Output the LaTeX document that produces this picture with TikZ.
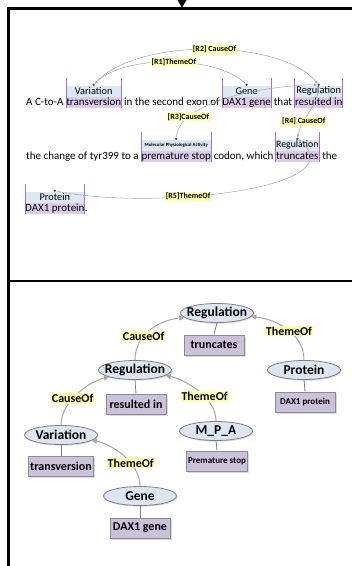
\documentclass[tikz,border=0pt]{standalone}
\usepackage{fontspec}
\setmainfont{Carlito}
\usetikzlibrary{shapes.geometric,arrows.meta,calc,shadows}
\definecolor{lblue}{HTML}{DDE8F5}
\definecolor{hlword}{HTML}{DCCBEA}
\definecolor{barpurp}{HTML}{A071D2}
\definecolor{dotpurp}{HTML}{4B3C9E}
\definecolor{arcgray}{HTML}{A6A6A6}
\definecolor{lblyel}{HTML}{FFFFA8}
\definecolor{eblue}{HTML}{DCE6F2}
\definecolor{eborder}{HTML}{7F7F7F}
\definecolor{boxfill}{HTML}{CCC1DA}
\definecolor{boxborder}{HTML}{8C8C8C}
\newcommand{\myannot}[3]{%
  \fill[strip] ($(#1.north west)+(0,-11)$) rectangle (#1.north east);
  \node[#3] (#1lab) at ($(#1.north)+(0,-5.5)$) {#2};
  \draw[bar] (#1.south west) -- ($(#1.north west)+(0,-19)$);
  \draw[bar] (#1.south east) -- ($(#1.north east)+(0,-19)$);
  \node[tdot] (#1dot) at ($(#1.north)+(0,-12)$) {};
}
\begin{document}
\begin{tikzpicture}[x=1pt,y=-1pt,
 wd/.style={inner sep=0pt, anchor=base west, font=\fontsize{11}{13}\selectfont},
 hw/.style={wd, fill=hlword, text height=8pt, text depth=3pt},
 strip/.style={fill=lblue},
 lbl/.style={inner sep=0pt, font=\fontsize{10.3}{12}\selectfont},
 slbl/.style={inner sep=0pt, font=\fontsize{9.8}{11}\selectfont},
 tinylbl/.style={inner sep=0pt, font=\fontsize{4.8}{5}\selectfont\bfseries},
 bar/.style={draw=barpurp, line width=0.9pt},
 tdot/.style={circle, fill=dotpurp, inner sep=0pt, minimum size=2.6pt},
 tarc/.style={draw=arcgray, line width=0.5pt},
 tarr/.style={tarc, -{Triangle[length=3pt,width=2.6pt]}},
 rlbl/.style={fill=lblyel, inner sep=0.8pt, font=\fontsize{8}{9}\selectfont\bfseries},
 frame/.style={line width=2.6pt, draw=black},
 ell/.style={ellipse, draw=eborder, line width=0.8pt, fill=eblue, minimum width=73pt, minimum height=19pt, inner sep=0pt, font=\fontsize{13.5}{15}\selectfont\bfseries, drop shadow={shadow xshift=1.2pt, shadow yshift=-1.2pt, opacity=0.3}},
 box/.style={rectangle, draw=boxborder, line width=1pt, fill=boxfill, minimum width=60pt, minimum height=20pt, inner sep=2pt, font=\fontsize{12}{14}\selectfont\bfseries, drop shadow={shadow xshift=1.5pt, shadow yshift=-1.5pt, opacity=0.3}},
 sbox/.style={box, font=\fontsize{9}{11}\selectfont\bfseries},
 link/.style={draw=eborder, line width=0.8pt},
 garr/.style={draw=arcgray, line width=1pt, -{Triangle[length=5pt,width=5pt]}},
 elbl/.style={fill=lblyel, inner sep=1pt, font=\fontsize{12}{13}\selectfont\bfseries}
]
\useasboundingbox (0,0) rectangle (352,566);
% frame
\fill (177.5,0) -- (186.5,0) -- (182,7.5) -- cycle;
\draw[frame] (8.5,566) -- (8.5,8.5) -- (352,8.5);
\draw[frame] (8.5,281) -- (352,281);

% ---- top panel: line 1
\node[wd] (t1) at (26,105) {A C-to-A};
\node[hw] (w1) at ($(t1.base east)+(2.5,0)$) {transversion};
\node[wd] (t2) at ($(w1.base east)+(2.5,0)$) {in the second exon of};
\node[hw] (w2) at ($(t2.base east)+(2.5,0)$) {DAX1 gene};
\node[wd] (t3) at ($(w2.base east)+(2.5,0)$) {that};
\node[hw] (w3) at ($(t3.base east)+(2.5,0)$) {resulted in};
% line 2
\node[wd] (t4) at (26,159) {the change of tyr399 to a};
\node[hw] (w4) at ($(t4.base east)+(2.5,0)$) {premature stop};
\node[wd] (t5) at ($(w4.base east)+(2.5,0)$) {codon, which};
\node[hw, inner xsep=1pt] (w5) at ($(t5.base east)+(1.5,0)$) {truncates};
\node[wd] (t6) at ($(w5.base east)+(2.5,0)$) {the};
% line 3
\node[hw] (w6) at (25,211) {DAX1 protein};
\node[wd] (t7) at (w6.base east) {.};

\myannot{w1}{Variation}{lbl}
\myannot{w2}{Gene}{lbl}
\myannot{w3}{Regulation}{lbl}
\myannot{w4}{Molecular Physiological Activity}{tinylbl}
\myannot{w5}{Regulation}{slbl}
\myannot{w6}{Protein}{lbl}

\draw[tarr] (w2dot) .. controls +(-30,-30) and +(30,-30) .. (w1dot) node[rlbl,pos=0.48] {[R1]ThemeOf};
\draw[tarr] (w1dot) .. controls +(40,-47) and +(-40,-47) .. (w3dot) node[rlbl,pos=0.53] {[R2] CauseOf};
\draw[tarr] (w4dot) .. controls +(3,-41) and +(-40,0) .. (w3dot) node[rlbl,pos=0.2] {[R3]CauseOf};
\draw[tarr] (w3dot) .. controls +(0,20) and +(4,-20) .. (w5dot) node[rlbl,pos=0.7] {[R4] CauseOf};
\draw[tarr] (w6dot) .. controls +(96,20) and +(60,50) .. (w5dot) node[rlbl,pos=0.37] {[R5]ThemeOf};

% ---- bottom panel
\node[ell] (rt) at (217,313) {\makebox[0pt]{Regulation}};
\node[box] (trunc) at (214,345) {truncates};
\node[ell] (rm) at (135,370) {\makebox[0pt]{Regulation}};
\node[box] (res) at (136,404) {resulted in};
\node[ell] (prot) at (304,370) {\makebox[0pt]{Protein}};
\node[sbox] (dp) at (305,402) {DAX1 protein};
\node[ell] (var) at (61,435) {\makebox[0pt]{Variation}};
\node[box] (trv) at (61,466) {transversion};
\node[ell] (mpa) at (216,431) {\makebox[0pt]{M\_P\_A}};
\node[sbox] (pst) at (217,461) {Premature stop};
\node[ell] (gene) at (140,496) {\makebox[0pt]{Gene}};
\node[box] (dg) at (140,528) {DAX1 gene};

\draw[link] (rt.south) -- (trunc.north);
\draw[link] (rm.south) -- (res.north);
\draw[link] (prot.south) -- (dp.north);
\draw[link] (var.south) -- (trv.north);
\draw[link] (mpa.south) -- (pst.north);
\draw[link] (gene.south) -- (dg.north);

\draw[garr] (rm.north) .. controls +(0,-28) and +(-22,2) .. (rt.188) node[elbl,pos=0.35] {CauseOf};
\draw[garr] (prot.north) .. controls +(0,-28) and +(22,2) .. (rt.-6) node[elbl,pos=0.45] {ThemeOf};
\draw[garr] (var.north) .. controls +(0,-25) and +(-18,4) .. (rm.195) node[elbl,pos=0.4] {CauseOf};
\draw[garr] (mpa.north) .. controls +(0,-25) and +(18,4) .. (rm.-10) node[elbl,pos=0.38] {ThemeOf};
\draw[garr] (gene.north) .. controls +(0,-25) and +(18,3) .. (var.-10) node[elbl,pos=0.35] {ThemeOf};
\end{tikzpicture}
\end{document}
